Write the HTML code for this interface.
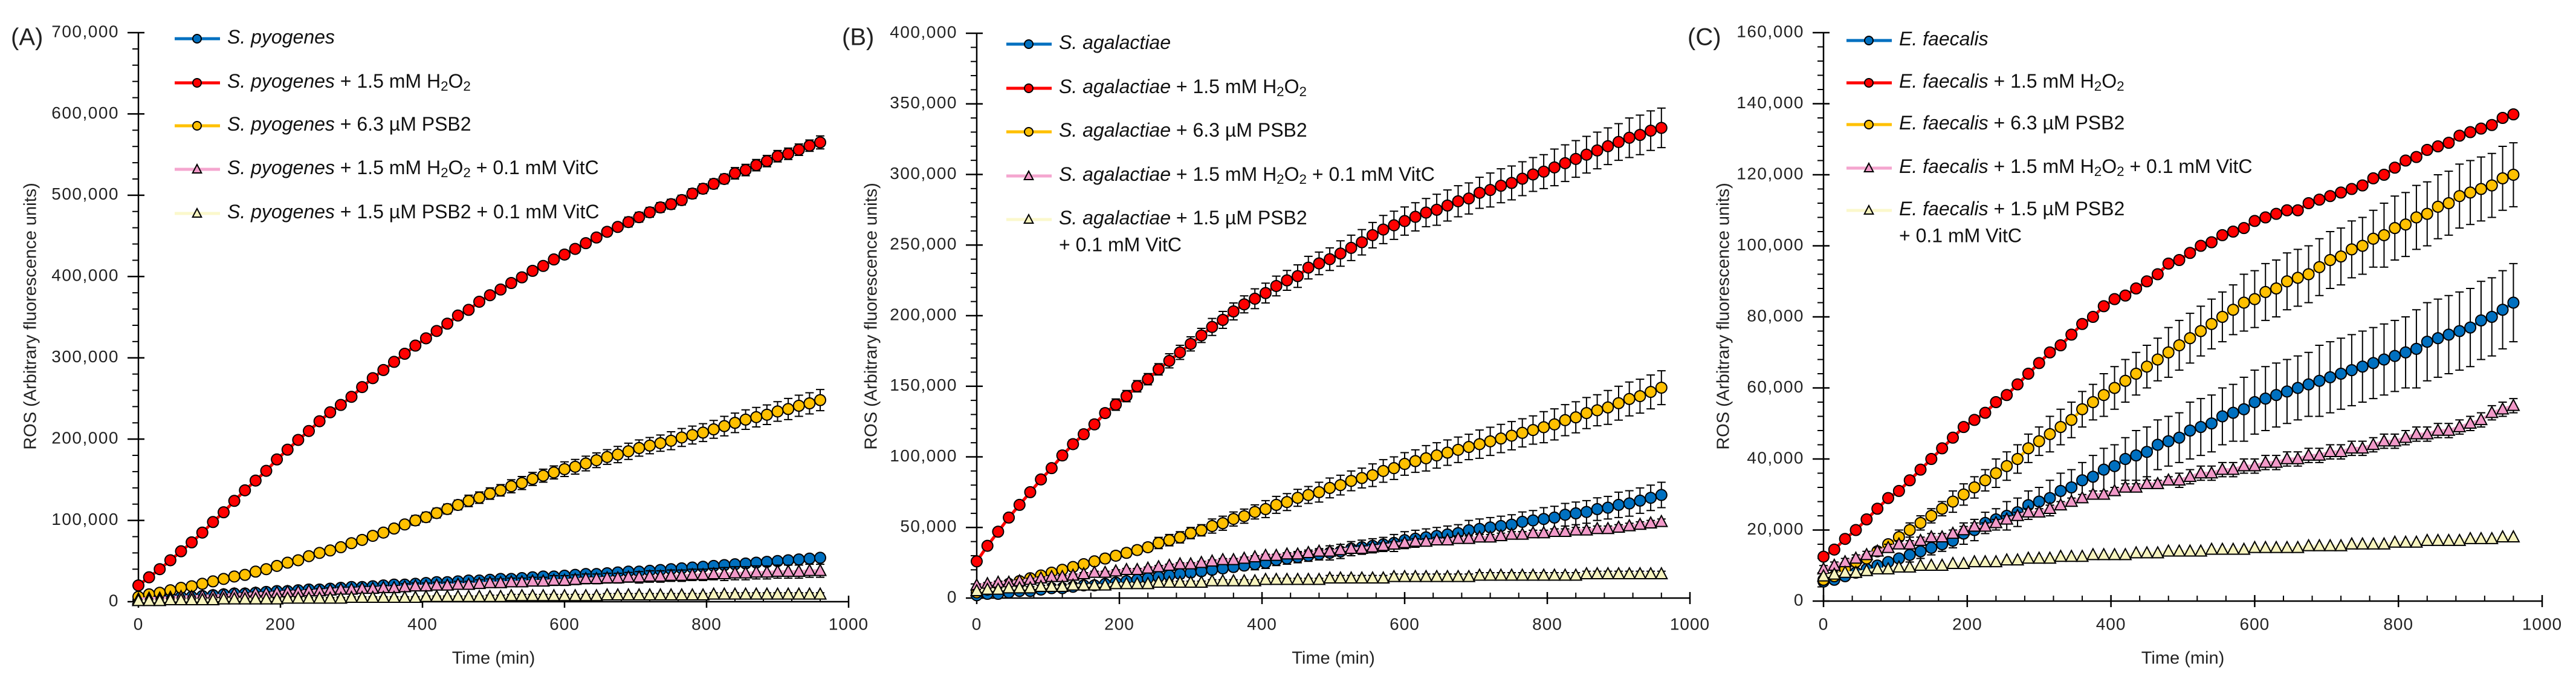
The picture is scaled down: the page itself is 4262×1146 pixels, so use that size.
<!DOCTYPE html>
<html><head><meta charset="utf-8"><title>ROS kinetics</title>
<style>
html,body{margin:0;padding:0;background:#fff;}
svg{display:block;font-family:"Liberation Sans",Arial,sans-serif;}
</style></head>
<body>
<svg id="chart" width="4262" height="1146" viewBox="0 0 4262 1146" xmlns="http://www.w3.org/2000/svg"></svg>
<script>
// ---- shared data ----
const timeMin = [0,15,30,45,60,75,90,105,120,135,150,165,180,195,210,225,240,255,270,285,300,315,330,345,360,375,390,405,420,435,450,465,480,495,510,525,540,555,570,585,600,615,630,645,660,675,690,705,720,735,750,765,780,795,810,825,840,855,870,885,900,915,930,945,960];
const xTicks = [0,200,400,600,800,1000];
const errLow = [1,1,1,1,1,1,1,1,1,1,1,1,1,1,1,1,1,1,1,1,1,1,1,1,1,1,1,1,1,1,1,1,1,2,2,2,2,2,2,2,2,2,2,2,2,2,2,2,2,2,2,2,2,2,2,2,2,2,2,2,2,2,2,2,2];
const errNone = [0,0,0,0,0,0,0,0,0,0,0,0,0,0,0,0,0,0,0,0,0,0,0,0,0,0,0,0,0,0,0,0,0,0,0,0,0,0,0,0,0,0,0,0,0,0,0,0,0,0,0,0,0,0,0,0,0,0,0,0,0,0,0,0,0];

// ---- Panel A (thousands) ----
const aYTicks = [0,100,200,300,400,500,600,700];
const aBlue = [2,3,4,5,6,6,7,8,9,10,10,11,12,13,13,14,15,15,16,17,18,18,19,20,21,21,22,23,24,24,25,26,26,27,28,28,29,30,31,31,32,33,34,34,35,36,37,37,38,39,40,41,42,43,44,45,46,47,48,49,50,51,52,53,54];
const aRed = [20,30,40,51,62,73,85,98,110,124,137,149,161,175,187,199,210,222,233,242,252,264,275,285,295,305,315,324,333,342,352,359,369,377,384,392,399,407,413,421,427,434,441,448,455,461,467,473,479,485,489,494,502,508,514,520,527,531,537,542,548,551,556,561,565];
const aYellow = [6,9,11,14,17,19,22,25,28,31,33,37,40,44,48,51,56,60,63,67,72,76,81,85,90,95,100,104,109,114,119,124,128,133,137,142,146,151,155,159,163,166,170,174,178,181,185,189,192,195,198,202,205,208,212,216,220,224,227,230,234,237,241,244,248];
const aPink = [3,4,4,5,6,6,7,7,8,9,9,10,10,11,12,12,13,13,14,15,15,16,16,17,17,18,19,19,20,20,21,21,22,23,23,24,24,25,25,26,26,27,28,28,29,29,30,30,31,31,32,32,33,33,34,34,35,35,36,36,37,37,37,38,38];
const aLight = [1,1,1,2,2,2,2,2,3,3,3,3,3,3,4,4,4,4,4,4,5,5,5,5,5,5,5,6,6,6,6,6,6,6,6,7,7,7,7,7,7,7,7,7,8,8,8,8,8,8,8,8,8,8,9,9,9,9,9,9,9,9,9,9,9];
const aRedErr = [2,2,2,2,2,2,2,2,2,2,2,2,3,3,3,3,3,3,3,3,3,3,3,3,4,4,4,4,4,4,4,4,4,4,4,5,5,5,5,5,5,5,5,5,5,5,6,6,6,6,6,6,6,6,6,6,7,7,7,7,7,7,7,7,8];
const aYellowErr = [1,1,1,1,1,2,2,2,2,2,2,3,3,3,3,3,4,4,4,4,4,5,5,5,5,5,6,6,6,6,6,7,7,7,7,8,8,8,8,8,9,9,9,9,9,10,10,10,10,10,11,11,11,11,11,12,12,12,12,12,12,13,13,13,13];
const aPinkErr = [0,0,1,1,1,1,1,1,1,1,2,2,2,2,2,2,2,3,3,3,3,3,3,3,3,4,4,4,4,4,4,4,5,5,5,5,5,5,5,6,6,6,6,6,6,6,6,7,7,7,7,7,7,7,7,8,8,8,8,8,8,8,8,8,8];

// ---- Panel B (thousands) ----
const bYTicks = [0,50,100,150,200,250,300,350,400];
const bBlue = [2,3,3,4,5,5,6,7,7,8,9,9,10,11,12,13,14,15,16,17,18,19,20,21,22,23,24,25,27,28,29,30,31,32,33,35,36,37,38,39,41,42,43,44,45,46,48,49,50,51,52,54,55,56,57,59,60,61,63,64,66,67,69,71,73];
const bRed = [26,37,47,57,66,75,84,92,101,109,116,123,131,137,143,150,155,162,168,174,180,186,192,197,203,208,212,216,221,225,228,234,237,240,244,248,252,257,261,264,267,270,273,275,278,281,283,287,289,292,294,297,300,302,305,308,311,314,317,320,323,326,328,331,333];
const bYellow = [4,6,8,10,12,14,16,18,20,22,24,26,28,30,32,34,36,39,41,43,46,48,51,53,56,58,61,63,66,68,71,73,75,78,80,83,85,87,90,92,95,97,99,101,103,105,107,109,111,113,115,117,119,121,123,126,128,131,133,135,138,141,143,146,149];
const bPink = [9,10,11,11,12,13,14,15,15,16,17,18,18,19,20,20,21,22,23,24,24,25,26,27,27,28,29,30,30,31,31,32,33,33,34,35,35,36,37,38,39,40,40,41,41,42,42,43,43,44,45,45,46,46,47,47,48,48,49,49,50,51,52,53,54];
const bLight = [5,6,6,7,7,7,8,8,8,9,9,9,9,10,10,10,10,11,11,11,11,11,12,12,12,12,12,13,13,13,13,13,13,14,14,14,14,14,14,15,15,15,15,15,15,15,15,16,16,16,16,16,16,16,16,16,16,17,17,17,17,17,17,17,17];
const bBlueErr = [0,0,0,1,1,1,1,1,1,1,1,1,2,2,2,2,2,2,2,3,3,3,3,3,3,3,4,4,4,4,4,4,4,5,5,5,5,5,5,6,6,6,6,6,6,6,7,7,7,7,7,7,7,8,8,8,8,8,8,8,9,9,9,9,9];
const bRedErr = [1,1,1,2,2,2,2,2,3,3,3,3,3,4,4,4,4,4,5,5,5,5,6,6,6,6,7,7,7,7,8,8,8,8,9,9,9,9,10,10,10,10,10,11,11,11,11,11,12,12,12,12,12,12,13,13,13,13,13,13,13,14,14,14,14];
const bYellowErr = [1,1,1,1,1,1,2,2,2,2,2,2,3,3,3,3,3,4,4,4,4,4,5,5,5,5,5,6,6,6,6,6,7,7,7,7,7,8,8,8,8,8,9,9,9,9,9,10,10,10,10,10,10,11,11,11,11,11,11,12,12,12,12,12,12];

// ---- Panel C (thousands) ----
const cYTicks = [0,20,40,60,80,100,120,140,160];
const cBlue = [5.5,6,7,8,9,10,11,12,13,14,15,16,17,19,20,22,23,24,25,27,28,29,31,32,34,35,37,38,40,41,42,44,45,46,48,49,50,52,53,54,56,57,58,59,60,61,62,63,64,65,66,67,68,69,70,71,73,74,75,76,77,79,80,82,84];
const cRed = [12.5,14.5,17.5,20,23,26,29,31,34,37,40,43,46,49,51,53,56,58,61,64,67,70,72,75,78,80,83,85,86,88,90,92,95,96,98,100,101,103,104,105,107,108,109,110,110,112,113,114,115,116,117,119,120,122,124,125,127,128,129,131,132,133,134,136,137];
const cYellow = [6,7,9,11,12,14,16,18,20,22,24,26,28,30,32,34,36,38,40,43,45,47,49,51,54,56,58,60,62,64,66,68,70,72,74,76,78,80,82,84,85,87,88,90,91,92,94,96,97,99,100,102,103,105,106,108,109,111,112,114,115,116,117,119,120];
const cPink = [9,10,11,12,13,14,15,16,16,17,18,18,19,20,21,21,22,23,24,25,25,26,27,28,29,30,30,31,32,32,33,33,34,34,35,36,36,37,37,38,38,39,39,40,40,41,41,42,42,43,43,44,45,45,46,47,47,48,48,49,50,51,53,54,55];
const cLight = [7,7.5,8,8,8.5,9,9,9.5,9.5,10,10,10,10.5,10.5,11,11,11,11.5,11.5,12,12,12,12.5,12.5,12.5,13,13,13,13,13.5,13.5,13.5,14,14,14,14,14.5,14.5,14.5,14.5,15,15,15,15,15,15.5,15.5,15.5,15.5,16,16,16,16,16.5,16.5,16.5,17,17,17,17,17.5,17.5,17.5,18,18];
const cBlueErr = [0,0,0,1,1,1,1,1,2,2,2,2,2,3,3,3,3,4,4,4,4,5,5,5,5,6,6,6,6,7,7,7,7,7,8,8,8,8,8,9,9,9,9,9,9,9,10,10,10,10,10,10,10,10,10,11,11,11,11,11,11,11,11,11,11];
const cYellowErr = [0,0,1,1,1,1,1,2,2,2,2,2,3,3,3,3,4,4,4,4,4,5,5,5,5,5,6,6,6,6,6,6,7,7,7,7,7,7,7,8,8,8,8,8,8,8,8,8,8,8,8,8,9,9,9,9,9,9,9,9,9,9,9,9,9];

const NS = 'http://www.w3.org/2000/svg';
const svg = document.getElementById('chart');
function mk(tag, attrs, parent){
  const e = document.createElementNS(NS, tag);
  for (const k in attrs) e.setAttribute(k, attrs[k]);
  (parent || svg).appendChild(e);
  return e;
}
const fmt = v => (v*1000).toLocaleString('en-US');

const COLORS = {
  blue:{line:'#0070c0', fill:'#0070c0', shape:'circle'},
  red:{line:'#ff0000', fill:'#ff0000', shape:'circle'},
  yellow:{line:'#ffc000', fill:'#ffc000', shape:'circle'},
  pink:{line:'#f4a6cf', fill:'#f29ac9', shape:'tri'},
  light:{line:'#fbf8cc', fill:'#f7f4bf', shape:'tri'}
};

function marker(g, shape, cx, cy, fill, r){
  let m;
  if (shape === 'circle') {
    m = mk('circle', {cx:cx, cy:cy, r:r, fill:fill, stroke:'#000', 'stroke-width':2}, g);
  } else {
    const h = r*1.9;
    m = mk('polygon', {points:`${cx},${cy-h*0.6} ${cx-r*1.05},${cy+h*0.45} ${cx+r*1.05},${cy+h*0.45}`, fill:fill, stroke:'#000', 'stroke-width':2, 'stroke-linejoin':'miter'}, g);
  }
  return m;
}

function legendText(parent, x, y, species, rest, size){
  const t = mk('text', {x:x, y:y, 'font-size':size, fill:'#111', 'dominant-baseline':'middle'}, parent);
  const sp = mk('tspan', {'font-style':'italic'}, t); sp.textContent = species;
  rest.forEach(part => {
    const ts = mk('tspan', part.sub ? {'font-size':size*0.7, dy:size*0.22} : (part.back ? {dy:-size*0.22} : {}), t);
    ts.textContent = part.s;
  });
  return t;
}

function panel(cfg){
  const g = mk('g', {});
  
  
  const X = v => cfg.x0 + (v/1000)*(cfg.x1-cfg.x0);
  const Y = v => cfg.y0 - (v/cfg.ymax)*(cfg.y0-cfg.yTop);

  const ax = mk('g', {}, g);
  
  
  mk('line', {x1:cfg.x0, y1:cfg.yTop, x2:cfg.x0, y2:cfg.y0, stroke:'#000', 'stroke-width':2.5}, ax);
  mk('line', {x1:cfg.x0, y1:cfg.y0, x2:cfg.x1, y2:cfg.y0, stroke:'#000', 'stroke-width':2.5}, ax);
  const yt = cfg.yTicks;
  const step = yt[1]-yt[0];
  for (let i=0;i<yt.length;i++){
    const y = Y(yt[i]);
    mk('line', {x1:cfg.x0-18, y1:y, x2:cfg.x0+10, y2:y, stroke:'#000', 'stroke-width':2.5}, ax);
    const lb = mk('text', {x:cfg.x0-32, y:y, 'font-size':28, 'text-anchor':'end', 'dominant-baseline':'middle', fill:'#222', 'letter-spacing':1.5}, ax);
    
    
    lb.textContent = fmt(yt[i]);
    if (i < yt.length-1){
      for (let k=1;k<cfg.minorY;k++){
        const ym = Y(yt[i] + step*k/cfg.minorY);
        mk('line', {x1:cfg.x0-10, y1:ym, x2:cfg.x0, y2:ym, stroke:'#000', 'stroke-width':2}, ax);
      }
    }
  }
  for (let i=0;i<xTicks.length;i++){
    const x = X(xTicks[i]);
    mk('line', {x1:x, y1:cfg.y0-10, x2:x, y2:cfg.y0+10, stroke:'#000', 'stroke-width':2.5}, ax);
    const lb = mk('text', {x:x, y:1034, 'font-size':28, 'text-anchor':'middle', 'dominant-baseline':'middle', fill:'#222', 'letter-spacing':1}, ax);
    
    
    lb.textContent = xTicks[i];
    if (i < xTicks.length-1){
      for (let k=1;k<5;k++){
        const xm = X(xTicks[i] + 200*k/5);
        mk('line', {x1:xm, y1:cfg.y0-9, x2:xm, y2:cfg.y0, stroke:'#000', 'stroke-width':2}, ax);
      }
    }
  }
  const xt = mk('text', {x:(cfg.x0+cfg.x1)/2, y:1090, 'font-size':29, 'text-anchor':'middle', 'dominant-baseline':'middle', fill:'#222'}, g);
  
  
  xt.textContent = 'Time (min)';
  const ytl = mk('text', {x:0, y:0, 'font-size':29, 'text-anchor':'middle', 'dominant-baseline':'middle', fill:'#222', transform:`translate(${cfg.ytx},523) rotate(-90)`}, g);
  
  
  ytl.textContent = 'ROS (Arbitrary fluorescence units)';
  const pl = mk('text', {x:cfg.lx, y:64, 'font-size':40, 'dominant-baseline':'middle', fill:'#222'}, g);
  
  
  pl.textContent = cfg.letter;

  cfg.series.forEach(s => {
    const c = COLORS[s.color];
    const sg = mk('g', {}, g);
    
    
    let d = '';
    s.values.forEach((v,i) => { d += (i?'L':'M') + X(timeMin[i]) + ',' + Y(v) + ' '; });
    const ln = mk('path', {d:d, fill:'none', stroke:c.line, 'stroke-width':5}, sg);
    
    
    s.values.forEach((v,i) => {
      const e = s.err[i];
      if (e > 0){
        const x = X(timeMin[i]);
        const y1 = Y(v+e), y2 = Y(v-e);
        const eb = mk('path', {d:`M${x},${y1} L${x},${y2} M${x-7},${y1} L${x+7},${y1} M${x-7},${y2} L${x+7},${y2}`, stroke:'#000', 'stroke-width':2, fill:'none'}, sg);
        
        
      }
    });
    s.values.forEach((v,i) => {
      const m = marker(sg, c.shape, X(timeMin[i]), Y(v), c.fill, 9);
      
      
    });
  });

  const lg = mk('g', {}, g);
  
  
  cfg.legend.forEach((it, i) => {
    const c = COLORS[it.color];
    const y = cfg.legY[i];
    const eg = mk('g', {}, lg);
    
    
    mk('line', {x1:cfg.legX0, y1:y, x2:cfg.legX0+75, y2:y, stroke:c.line, 'stroke-width':5}, eg);
    marker(eg, c.shape, cfg.legX0+37, y, c.fill, 7);
    legendText(eg, cfg.legX0+87, y, it.sp, it.rest, 32);
    if (it.line2){
      const t2 = mk('text', {x:cfg.legX0+87, y:y+44, 'font-size':32, 'dominant-baseline':'middle', fill:'#111'}, eg);
      t2.textContent = it.line2;
    }
  });
}

function legendItems(sp, twoLine){
  return [
    {color:'blue', sp:sp, rest:[]},
    {color:'red', sp:sp, rest:[{s:' + 1.5 mM H'},{s:'2',sub:1},{s:'O',back:1},{s:'2',sub:1},{s:' ',back:1}]},
    {color:'yellow', sp:sp, rest:[{s:' + 6.3 µM PSB2'}]},
    {color:'pink', sp:sp, rest:[{s:' + 1.5 mM H'},{s:'2',sub:1},{s:'O',back:1},{s:'2',sub:1},{s:' + 0.1 mM VitC',back:1}]},
    twoLine ? {color:'light', sp:sp, rest:[{s:' + 1.5 µM PSB2'}], line2:'+ 0.1 mM VitC'}
            : {color:'light', sp:sp, rest:[{s:' + 1.5 µM PSB2 + 0.1 mM VitC'}]}
  ];
}

panel({name:'panel-a', letter:'(A)', lx:18, x0:229, x1:1404, yTop:54, y0:995, ymax:700, yTicks:aYTicks, minorY:5, ytx:52,
  legX0:289, legY:[64,137,208,280,353], legend:legendItems('S. pyogenes', false),
  series:[
    {id:'series-s-pyogenes', color:'blue', values:aBlue, err:errLow},
    {id:'series-s-pyogenes-h2o2', color:'red', values:aRed, err:aRedErr},
    {id:'series-s-pyogenes-psb2', color:'yellow', values:aYellow, err:aYellowErr},
    {id:'series-s-pyogenes-h2o2-vitc', color:'pink', values:aPink, err:aPinkErr},
    {id:'series-s-pyogenes-psb2-vitc', color:'light', values:aLight, err:errLow}
  ]});
panel({name:'panel-b', letter:'(B)', lx:1393, x0:1616, x1:2796, yTop:55, y0:989, ymax:400, yTicks:bYTicks, minorY:5, ytx:1443,
  legX0:1665, legY:[73,146,218,291,363], legend:legendItems('S. agalactiae', true),
  series:[
    {id:'series-s-agalactiae', color:'blue', values:bBlue, err:bBlueErr},
    {id:'series-s-agalactiae-h2o2', color:'red', values:bRed, err:bRedErr},
    {id:'series-s-agalactiae-psb2', color:'yellow', values:bYellow, err:bYellowErr},
    {id:'series-s-agalactiae-h2o2-vitc', color:'pink', values:bPink, err:errLow},
    {id:'series-s-agalactiae-psb2-vitc', color:'light', values:bLight, err:errLow}
  ]});
panel({name:'panel-c', letter:'(C)', lx:2792, x0:3017, x1:4206, yTop:54, y0:994, ymax:160, yTicks:cYTicks, minorY:5, ytx:2853,
  legX0:3055, legY:[67,137,206,278,348], legend:legendItems('E. faecalis', true),
  series:[
    {id:'series-e-faecalis', color:'blue', values:cBlue, err:cBlueErr},
    {id:'series-e-faecalis-h2o2', color:'red', values:cRed, err:errNone},
    {id:'series-e-faecalis-psb2', color:'yellow', values:cYellow, err:cYellowErr},
    {id:'series-e-faecalis-h2o2-vitc', color:'pink', values:cPink, err:errLow},
    {id:'series-e-faecalis-psb2-vitc', color:'light', values:cLight, err:errNone}
  ]});
</script>
</body></html>
